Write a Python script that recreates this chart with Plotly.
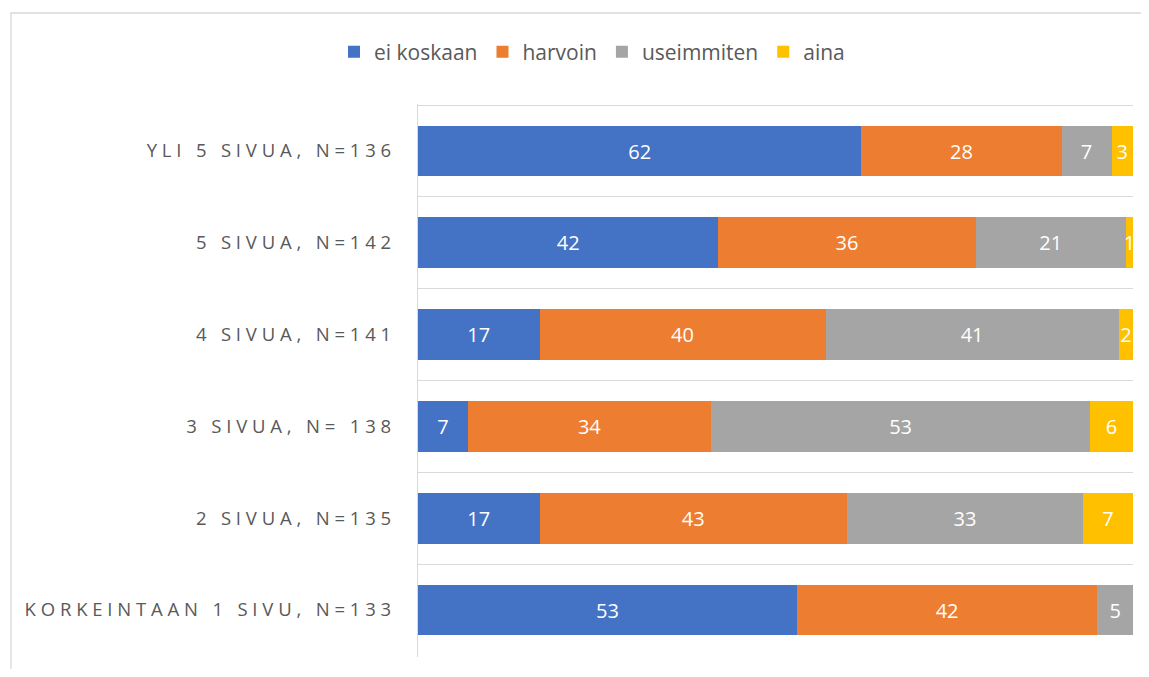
import plotly.graph_objects as go

categories = ["YLI 5 SIVUA, N=136", "5 SIVUA, N=142", "4 SIVUA, N=141",
              "3 SIVUA, N= 138", "2 SIVUA, N=135", "KORKEINTAAN 1 SIVU, N=133"]
series_names = ["ei koskaan", "harvoin", "useimmiten", "aina"]
ei_koskaan = [62, 42, 17, 7, 17, 53]
harvoin = [28, 36, 40, 34, 43, 42]
useimmiten = [7, 21, 41, 53, 33, 5]
aina = [3, 1, 2, 6, 7, 0]
colors = ["#4472C4", "#ED7D31", "#A5A5A5", "#FFC000"]

def spaced(s):
    return "\u00a0".join(list(s.replace(" ", "\u00a0")))

labels = [spaced(c) for c in categories]

fig = go.Figure()
for name, vals, col in zip(series_names, [ei_koskaan, harvoin, useimmiten, aina], colors):
    fig.add_trace(go.Bar(
        y=labels, x=vals, name=name, orientation="h",
        marker=dict(color=col, line=dict(width=0)),
        text=[str(v) if v > 0 else "" for v in vals],
        textposition="inside", insidetextanchor="middle",
        textfont=dict(color="white", size=20, family="Open Sans"),
        constraintext="none", cliponaxis=True,
        hoverinfo="x+y+name",
    ))

# page is offset by the 8px body margin; keep the figure inside the viewport
OFF = 8
W, H = 1149 - 2 * OFF, 677 - 2 * OFF
L, T = 418 - OFF, 104 - OFF
R = W - (1133 - OFF)
B = H - (657 - OFF)
pw = W - L - R
ph = H - T - B

def px_x(px):
    return (px - OFF - L) / pw

def px_y(py):
    return (H - B - (py - OFF)) / ph

n = len(categories)
eps = 0.012
xl, xr = px_x(11), px_x(1160)
yt, yb = px_y(13), px_y(700)

fig.update_layout(
    barmode="stack", bargap=0.447,
    width=W, height=H,
    margin=dict(l=L, r=R, t=T, b=B, pad=0),
    paper_bgcolor="white", plot_bgcolor="white",
    font=dict(family="Open Sans", color="#595959"),
    uniformtext=dict(minsize=20, mode="show"),
    legend=dict(orientation="h", x=px_x(592), xanchor="center",
                y=px_y(52), yanchor="middle",
                font=dict(size=21, color="#595959", family="Open Sans"),
                itemwidth=30, traceorder="normal",
                bgcolor="rgba(0,0,0,0)"),
    xaxis=dict(range=[0, 100], showgrid=False, showticklabels=False,
               zeroline=False, showline=False, fixedrange=True),
    yaxis=dict(range=[n - 0.5 + eps, -0.5 - eps], tickson="boundaries", showgrid=True,
               gridcolor="#d9d9d9", gridwidth=1.3, showline=True,
               linecolor="#d9d9d9", linewidth=1.3, ticks="",
               ticklabelstandoff=22,
               tickfont=dict(size=18.5, color="#595959", family="Open Sans")),
    shapes=[dict(type="path", xref="paper", yref="paper",
                 path=f"M {xl},{yb} L {xl},{yt} L {xr},{yt}",
                 line=dict(color="#d9d9d9", width=1.3), fillcolor="rgba(0,0,0,0)",
                 layer="below")],
)

fig.write_html("out.html")
